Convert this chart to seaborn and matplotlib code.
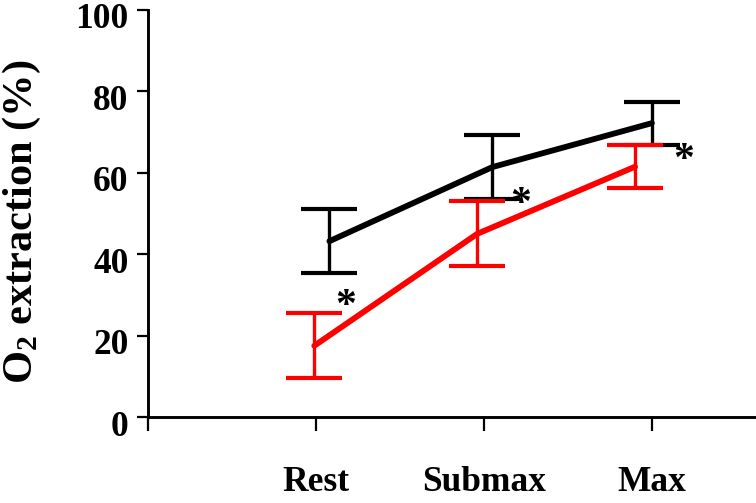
import matplotlib
matplotlib.use("Agg")
import matplotlib.pyplot as plt
import matplotlib.transforms as mtransforms
import seaborn as sns
import pandas as pd

categories = ["Rest", "Submax", "Max"]
cat_pos = [1, 2, 3]
# series A (black)
black_mean = [43.2, 61.4, 72.2]
black_err = [7.9, 7.8, 5.3]
black_x = [1.08, 2.05, 3.0]
# series B (red)
red_mean = [17.5, 45.0, 61.5]
red_err = [8.0, 8.0, 5.3]
red_x = [0.99, 1.96, 2.90]
star_labels = ["*", "*", "*"]
star_x = [1.18, 2.22, 3.19]
star_y = [27, 52, 63]

sns.set_theme(style="white")
plt.rcParams["font.family"] = ["Liberation Serif", "DejaVu Serif"]
plt.rcParams["font.weight"] = "bold"
plt.rcParams["text.color"] = "black"
plt.rcParams["axes.labelcolor"] = "black"
plt.rcParams["xtick.color"] = "black"
plt.rcParams["ytick.color"] = "black"
plt.rcParams["mathtext.fontset"] = "custom"
plt.rcParams["mathtext.rm"] = "Liberation Serif:bold"
plt.rcParams["mathtext.bf"] = "Liberation Serif:bold"
plt.rcParams["mathtext.it"] = "Liberation Serif:bold"

fig = plt.figure(figsize=(7.56, 5.03), dpi=100)
ax = fig.add_axes([148 / 756, 1 - 417 / 503, 1 - 148 / 756, (417 - 10) / 503])

df = pd.concat([
    pd.DataFrame({"x": black_x, "y": black_mean, "g": "black"}),
    pd.DataFrame({"x": red_x, "y": red_mean, "g": "red"}),
])
sns.lineplot(data=df, x="x", y="y", hue="g", palette={"black": "black", "red": "#ff0000"},
             linewidth=4.2, legend=False, ax=ax, sort=False)
ax.errorbar(black_x, black_mean, yerr=black_err, fmt="none", ecolor="black",
            elinewidth=2.4, capsize=20, capthick=3)
ax.errorbar(red_x, red_mean, yerr=red_err, fmt="none", ecolor="#ff0000",
            elinewidth=2.4, capsize=20, capthick=3)
for sx, sy, s in zip(star_x, star_y, star_labels):
    ax.text(sx, sy, s, ha="center", va="center", fontsize=30, fontweight="bold", color="black")

ax.set_xlim(0, 3.62)
ax.set_ylim(0, 100)
ax.set_xticks([0] + cat_pos)
ax.set_xticklabels([""] + categories)
ax.set_yticks([0, 20, 40, 60, 80, 100])
for s in ["top", "right"]:
    ax.spines[s].set_visible(False)
for s in ["left", "bottom"]:
    ax.spines[s].set_linewidth(2.1)
    ax.spines[s].set_color("black")
ax.tick_params(axis="y", direction="out", length=8, width=1.6, pad=6, labelsize=25.5, left=True)
ax.tick_params(axis="x", direction="out", length=10, width=1.6, pad=25, labelsize=25.5, bottom=True)
shift = mtransforms.ScaledTranslation(0, -6 / 100, fig.dpi_scale_trans)
for lab in ax.get_yticklabels():
    lab.set_fontweight("bold")
    lab.set_transform(lab.get_transform() + shift)
for lab in ax.get_xticklabels():
    lab.set_fontweight("bold")
ax.set_xlabel("")
ax.set_ylabel("O$_2$ extraction (%)", fontsize=30.5, fontweight="bold")
ax.yaxis.set_label_coords(-(148 - 43) / 608, (417 - 222) / 407)

fig.savefig("out.png", dpi=100)
